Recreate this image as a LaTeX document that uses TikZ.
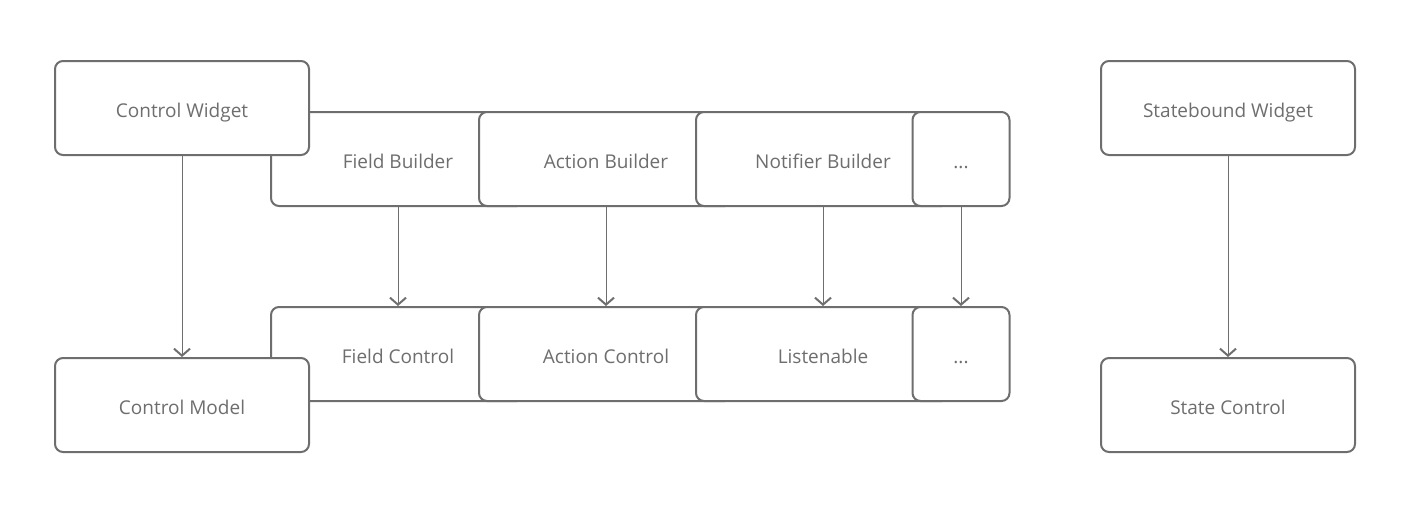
\documentclass[tikz,border=0pt]{standalone}
\usepackage{fontspec}
\setmainfont{Open Sans}
\usetikzlibrary{arrows.meta}
\definecolor{gr}{HTML}{6E6E6E}
\begin{document}
\begin{tikzpicture}[x=1pt,y=-1pt,
  box/.style={draw=gr,line width=2pt,rounded corners=8pt,fill=white,
    minimum width=254pt,minimum height=94pt,inner sep=0pt,text=gr,
    text height=18pt,text depth=0pt,
    font=\fontsize{19}{21}\selectfont},
  smallbox/.style={box,minimum width=97pt},
  arr/.style={draw=gr,line width=1pt,-{Straight Barb[length=7pt,width=16pt,line width=2pt]}}]
\useasboundingbox (0,0) rectangle (1408,512);
% top row
\node[box] (fb) at (398,159) {Field Builder};
\node[box] (ab) at (606,159) {Action Builder};
\node[box] (nb) at (823,159) {Notifier Builder};
\node[smallbox] (db) at (961,159) {...};
\node[box] (cw) at (182,108) {Control Widget};
% bottom row
\node[box] (fc) at (398,354) {Field Control};
\node[box] (ac) at (606,354) {Action Control};
\node[box] (li) at (823,354) {Listenable};
\node[smallbox] (dc) at (961,354) {...};
\node[box] (cm) at (182,405) {Control Model};
% right
\node[box] (sw) at (1228,108) {Statebound Widget};
\node[box] (sc) at (1228,405) {State Control};
% arrows
\draw[arr] (cw.south) -- (cm.north);
\draw[arr] (fb.south) -- (fc.north);
\draw[arr] (ab.south) -- (ac.north);
\draw[arr] (nb.south) -- (li.north);
\draw[arr] (db.south) -- (dc.north);
\draw[arr] (sw.south) -- (sc.north);
\end{tikzpicture}
\end{document}
